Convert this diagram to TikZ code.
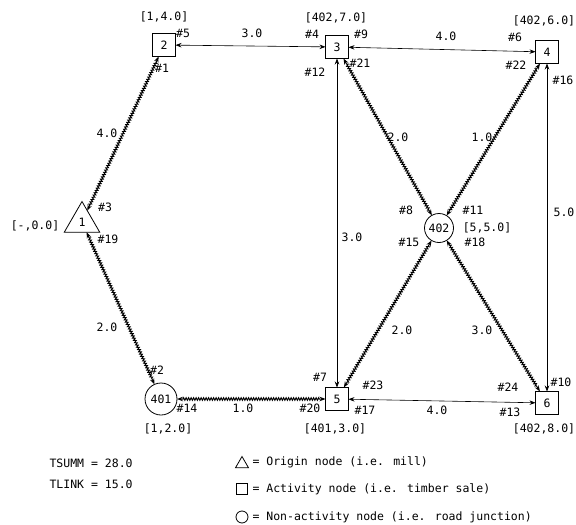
\documentclass[tikz,border=0pt]{standalone}
\usepackage{fontspec}
\setmainfont{DejaVu Sans Mono}
\usetikzlibrary{arrows.meta,shapes.geometric,decorations.pathmorphing}

\begin{document}
\begin{tikzpicture}[x=1pt,y=-1pt,
    font=\fontsize{11.5}{12}\selectfont,
    >={Stealth[length=6pt,width=4.5pt,inset=2pt]},
    actNd/.style={draw,thick,minimum size=23pt,inner sep=0pt,outer sep=0pt},
    origNd/.style={draw,thick,regular polygon,regular polygon sides=3,minimum size=41pt,inner sep=0pt,outer sep=0pt},
    junNd/.style={draw,thick,circle,inner sep=0pt,outer sep=0pt},
    roadLk/.style={<->,semithick},
    newLk/.style={<->,line width=1pt,decorate,decoration={zigzag,segment length=2.5pt,amplitude=1.2pt,pre length=6pt,post length=6pt}},
]
\useasboundingbox (0,0) rectangle (576,525);
% Network nodes
\node[origNd] (N1) at (82,222) {1};
\node[actNd] (N2) at (164,45) {2};
\node[actNd] (N3) at (337,47) {3};
\node[actNd] (N4) at (547,52) {4};
\node[actNd] (N5) at (337,399) {5};
\node[actNd] (N6) at (547,403) {6};
\node[junNd,minimum size=32pt] (N401) at (161,399) {401};
\node[junNd,minimum size=29pt] (N402) at (439,228) {402};
% Existing roads
\draw[roadLk] (N2) -- (N3);
\draw[roadLk] (N3) -- (N4);
\draw[roadLk] (N3) -- (N5);
\draw[roadLk] (N4) -- (N6);
\draw[roadLk] (N5) -- (N6);
% Roads to be built
\draw[newLk] (N1) -- (N2);
\draw[newLk] (N1) -- (N401);
\draw[newLk] (N401) -- (N5);
\draw[newLk] (N402) -- (N3);
\draw[newLk] (N402) -- (N4);
\draw[newLk] (N402) -- (N5);
\draw[newLk] (N402) -- (N6);
% Node labels
\node (b1) at (35,226) {[-,0.0]};
\node (b2) at (164,17) {[1,4.0]};
\node (b3) at (336,18) {[402,7.0]};
\node (b4) at (544,21) {[402,6.0]};
\node (b5) at (335,429) {[401,3.0]};
\node (b6) at (544,429) {[402,8.0]};
\node (b401) at (168,429) {[1,2.0]};
\node (b402) at (487,228) {[5,5.0]};
% Link lengths
\node (w12) at (107,133) {4.0};
\node (w23) at (252,33) {3.0};
\node (w34) at (446,36) {4.0};
\node (w3x) at (398,137) {2.0};
\node (w4x) at (482,137) {1.0};
\node (w46) at (564,212) {5.0};
\node (w35) at (352,237) {3.0};
\node (w5x) at (402,330) {2.0};
\node (w6x) at (482,330) {3.0};
\node (w1y) at (107,327) {2.0};
\node (w5y) at (243,408) {1.0};
\node (w56) at (437,410) {4.0};
% Link end numbers
\node (h1) at (162,68) {\#1};
\node (h2) at (157,370) {\#2};
\node (h3) at (105,207) {\#3};
\node (h4) at (312,34) {\#4};
\node (h5) at (183,33) {\#5};
\node (h6) at (515,37) {\#6};
\node (h7) at (320,377) {\#7};
\node (h8) at (406,210) {\#8};
\node (h9) at (361,34) {\#9};
\node (h10) at (561,382) {\#10};
\node (h11) at (473,210) {\#11};
\node (h12) at (315,72) {\#12};
\node (h13) at (510,412) {\#13};
\node (h14) at (187,408) {\#14};
\node (h15) at (409,242) {\#15};
\node (h16) at (563,80) {\#16};
\node (h17) at (365,410) {\#17};
\node (h18) at (475,242) {\#18};
\node (h19) at (108,239) {\#19};
\node (h20) at (310,408) {\#20};
\node (h21) at (360,63) {\#21};
\node (h22) at (516,65) {\#22};
\node (h23) at (373,385) {\#23};
\node (h24) at (508,387) {\#24};
% Totals
\node[anchor=west] (tsumm) at (46,463) {TSUMM = 28.0};
\node[anchor=west] (tlink) at (46,484) {TLINK = 15.0};
% Legend
\node[draw,thick,regular polygon,regular polygon sides=3,minimum size=15pt,inner sep=0pt] (kO) at (242,464) {};
\node[anchor=west] (kOt) at (249,462) {= Origin node (i.e. mill)};
\node[draw,thick,minimum size=11pt,inner sep=0pt] (kA) at (242,489) {};
\node[anchor=west] (kAt) at (249,489) {= Activity node (i.e. timber sale)};
\node[draw,thick,circle,minimum size=12pt,inner sep=0pt] (kJ) at (242,517) {};
\node[anchor=west] (kJt) at (249,517) {= Non-activity node (i.e. road junction)};
\end{tikzpicture}
\end{document}
